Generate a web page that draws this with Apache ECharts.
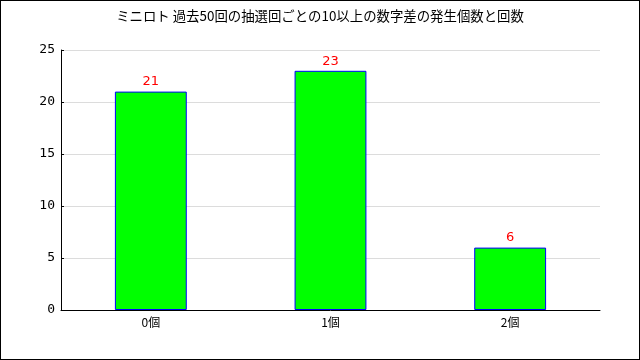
<!DOCTYPE html>
<html><head><meta charset="utf-8">
<script src="https://cdn.jsdelivr.net/npm/echarts@6/dist/echarts.min.js"></script>
<style>html,body{margin:0;padding:0;background:#fff}#c{width:638px;height:358px;border:1px solid #000}</style>
</head><body><div id="c"></div>
<script>
const titleText = 'ミニロト 過去50回の抽選回ごとの10以上の数字差の発生個数と回数';
const categories = ['0個', '1個', '2個'];
const counts = [21, 23, 6];
const yTicks = [0, 5, 10, 15, 20, 25];

const chart = echarts.init(document.getElementById('c'), null, {renderer: 'canvas'});
chart.setOption({
  animation: false,
  backgroundColor: '#fff',
  title: {text: titleText, left: 'center', top: 3,
    textStyle: {fontSize: 13.4, fontWeight: 'normal', color: '#000', fontFamily: '"Noto Sans CJK JP", sans-serif'}},
  grid: {left: 60, right: 39, top: 49, bottom: 49, containLabel: false},
  xAxis: {type: 'category', data: categories,
    axisLine: {lineStyle: {color: '#000', width: 1}},
    axisTick: {inside: true, length: 5, lineStyle: {color: '#000', width: 1}},
    axisLabel: {color: '#000', fontSize: 12, margin: 6, fontFamily: '"Noto Sans CJK JP", sans-serif'},
    splitLine: {show: false}},
  yAxis: {type: 'value', min: yTicks[0], max: yTicks[yTicks.length-1], interval: 5,
    axisLine: {show: true, lineStyle: {color: '#000', width: 1}},
    axisTick: {show: true, inside: true, length: 3, lineStyle: {color: '#000'}},
    axisLabel: {color: '#000', fontSize: 13, margin: 6, fontFamily: '"DejaVu Sans Mono", monospace'},
    splitLine: {show: true, lineStyle: {color: '#dcdcdc', width: 1}}},
  series: [{type: 'bar', data: counts, barWidth: '40%',
    itemStyle: {color: '#00ff00', borderColor: '#0000ff', borderWidth: 1},
    label: {show: true, position: 'top', color: '#ff0000', fontSize: 13, distance: 3,
      fontFamily: '"DejaVu Sans", sans-serif'}}]
});
</script></body></html>
